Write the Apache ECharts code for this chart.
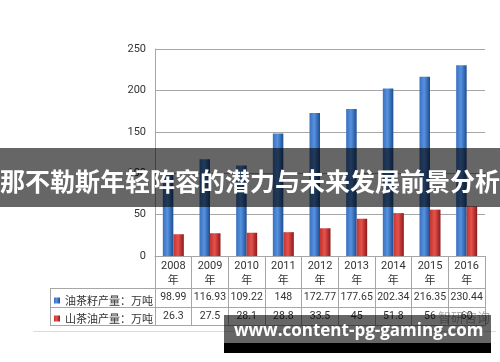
<!DOCTYPE html>
<html>
<head>
<meta charset="utf-8">
<script src="https://cdn.jsdelivr.net/npm/echarts@6/dist/echarts.min.js"></script>
<style>html,body{margin:0;padding:0;background:#fff}#c{width:500px;height:362px}</style>
</head>
<body>
<div id="c"></div>
<script>
var years = ['2008', '2009', '2010', '2011', '2012', '2013', '2014', '2015', '2016'];
var seedName = '油茶籽产量：万吨';
var oilName = '山茶油产量：万吨';
var seedValues = [98.99, 116.93, 109.22, 148, 172.77, 177.65, 202.34, 216.35, 230.44];
var oilValues = [26.3, 27.5, 28.1, 28.8, 33.5, 45, 51.8, 56, 60];
var yTicks = {min: 0, max: 250, interval: 50};
var titleText = '那不勒斯年轻阵容的潜力与未来发展前景分析';
var watermarkText = 'www.content-pg-gaming.com';

var chart = echarts.init(document.getElementById('c'), null, {renderer: 'canvas'});
var numFont = 'Roboto, "Noto Sans CJK SC", sans-serif';
var grayLine = '#a6a6a6';

function grad(a, b, c) {
  return new echarts.graphic.LinearGradient(0, 0, 1, 0, [
    {offset: 0, color: a}, {offset: 0.45, color: b}, {offset: 1, color: c}
  ]);
}

var option = {
  animation: false,
  backgroundColor: '#ffffff',
  title: {
    text: titleText, left: 'center', top: 164, z: 100,
    textStyle: {color: '#ffffff', fontSize: 25, fontWeight: 'bold', fontFamily: '"Noto Sans CJK SC", sans-serif'}
  },
  legend: {
    orient: 'vertical', left: 49, top: 290, itemGap: 7,
    icon: 'rect', itemWidth: 6, itemHeight: 6,
    textStyle: {fontSize: 11, color: '#333', fontFamily: '"Noto Sans CJK SC", sans-serif'},
    data: [seedName, oilName]
  },
  grid: {left: 155, right: 15, top: 49, height: 207, containLabel: false},
  yAxis: {
    type: 'value', min: yTicks.min, max: yTicks.max, interval: yTicks.interval,
    axisLine: {show: true, lineStyle: {color: grayLine}},
    axisTick: {show: false},
    axisLabel: {color: '#333', fontSize: 11, margin: 9, fontFamily: numFont},
    splitLine: {lineStyle: {color: grayLine, width: 1}}
  },
  xAxis: [
    {
      type: 'category', data: years.map(function (y) { return y + '\n年'; }),
      axisLine: {show: true, lineStyle: {color: grayLine}},
      axisTick: {show: true, length: 69, interval: 0, lineStyle: {color: grayLine}},
      axisLabel: {color: '#333', fontSize: 11, lineHeight: 15, margin: 3, interval: 0, fontFamily: numFont}
    },
    {
      type: 'category', position: 'bottom', offset: 32,
      data: seedValues.map(String),
      axisLine: {show: true, lineStyle: {color: grayLine}},
      axisTick: {show: false},
      axisLabel: {color: '#333', fontSize: 10.5, margin: 4, interval: 0, fontFamily: numFont}
    },
    {
      type: 'category', position: 'bottom', offset: 51,
      data: oilValues.map(String),
      axisLine: {show: true, lineStyle: {color: grayLine}},
      axisTick: {show: false},
      axisLabel: {color: '#333', fontSize: 10.5, margin: 4, interval: 0, fontFamily: numFont}
    },
    {
      type: 'category', position: 'bottom', offset: 69,
      data: years,
      axisLine: {show: true, lineStyle: {color: grayLine}},
      axisTick: {show: false},
      axisLabel: {show: false}
    }
  ],
  series: [
    {
      name: seedName, type: 'bar', data: seedValues, barWidth: 10.5, barGap: '0%',
      itemStyle: {color: grad('#3a70bd', '#5592e0', '#1e4d90')}
    },
    {
      name: oilName, type: 'bar', data: oilValues, barWidth: 10.5, barGap: '0%',
      itemStyle: {color: grad('#c23430', '#e5524c', '#8c1a1a')}
    }
  ],
  graphic: [
    {type: 'line', shape: {x1: 50, y1: 288.5, x2: 155, y2: 288.5}, style: {stroke: grayLine, lineWidth: 1}},
    {type: 'line', shape: {x1: 50, y1: 307.5, x2: 155, y2: 307.5}, style: {stroke: grayLine, lineWidth: 1}},
    {type: 'line', shape: {x1: 50, y1: 325.5, x2: 155, y2: 325.5}, style: {stroke: grayLine, lineWidth: 1}},
    {type: 'line', shape: {x1: 50.5, y1: 288, x2: 50.5, y2: 326}, style: {stroke: grayLine, lineWidth: 1}},
    {type: 'line', shape: {x1: 33, y1: 331.5, x2: 496, y2: 331.5}, style: {stroke: '#dcdcdc', lineWidth: 1}},
    {type: 'text', left: 438, top: 311, z: 40, style: {text: '智研咨询', fill: 'rgba(110,110,110,0.55)', font: '13px "Noto Sans CJK SC"'}},
    {type: 'rect', shape: {x: 0, y: 148, width: 500, height: 59}, style: {fill: 'rgba(0,0,0,0.6)'}, z: 50},
    {type: 'rect', shape: {x: 224, y: 315, width: 267, height: 28}, style: {fill: 'rgba(0,0,0,0.6)'}, z: 50},
    {type: 'rect', shape: {x: 224, y: 343, width: 267, height: 10}, style: {fill: '#000000'}, z: 50},
    {type: 'text', left: 234, top: 323, z: 60, style: {text: watermarkText, fill: '#ffffff', font: 'bold 17px "Open Sans", sans-serif'}}
  ]
};
chart.setOption(option);
</script>
</body>
</html>
